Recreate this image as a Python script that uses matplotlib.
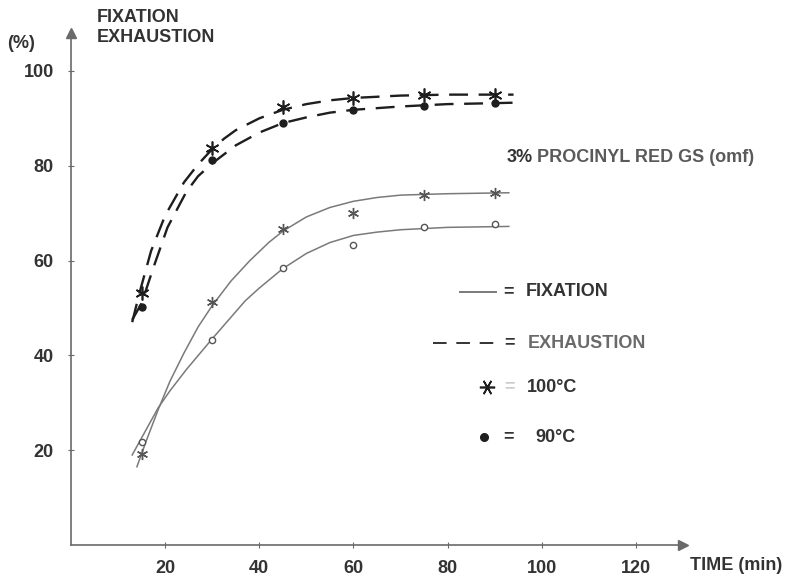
import numpy as np
import matplotlib
matplotlib.use('Agg')
import matplotlib.pyplot as plt
from matplotlib.lines import Line2D

plt.rcParams['font.family'] = ['Liberation Sans', 'DejaVu Sans']
plt.rcParams['font.weight'] = 'bold'

# measured points
times = [15, 30, 45, 60, 75, 90]
exh_100 = [53.2, 83.8, 92.4, 94.3, 94.9, 94.9]
exh_90 = [50.2, 81.2, 89.0, 91.8, 92.6, 93.2]
fix_100 = [19.3, 51.3, 66.7, 70.0, 73.8, 74.3]
fix_90 = [21.7, 43.2, 58.4, 63.3, 67.1, 67.7]

# hand drawn curves
exh_100_t = [13, 14.5, 17, 20, 24, 27, 30, 32.5, 35, 40, 45, 50, 55, 60, 70, 80, 90, 94]
exh_100_c = [47, 53, 62, 69.5, 76.5, 80.3, 83.5, 85.7, 87.5, 90, 91.8, 93, 93.8, 94.3,
             94.8, 95, 95, 95]
exh_90_t = [13, 15, 17.5, 20.5, 24.5, 27, 30, 35, 40, 45, 50, 55, 60, 70, 80, 90, 94]
exh_90_c = [47.5, 51, 58.5, 67, 74.5, 77.8, 80.5, 84.3, 87, 89, 90.2, 91.2, 91.8, 92.5,
            93, 93.2, 93.3]
fix_100_t = [14, 16, 18.5, 21, 24, 27, 30, 34, 38, 42, 45, 50, 55, 60, 65, 70, 80, 93]
fix_100_c = [16.5, 22, 28.5, 34.5, 40.5, 46, 50.5, 55.7, 60, 63.8, 66.2, 69.2, 71.2, 72.5,
             73.3, 73.8, 74.1, 74.3]
fix_90_t = [13, 15.5, 18.5, 21, 24.5, 30, 37, 40, 45, 50, 55, 60, 65, 70, 80, 93]
fix_90_c = [19, 23.5, 28.9, 32.5, 37, 43.5, 51.5, 54.2, 58.3, 61.5, 63.8, 65.3, 66.0, 66.5,
            67, 67.2]

xticks = [20, 40, 60, 80, 100, 120]
yticks = [20, 40, 60, 80, 100]

W, H = 786, 577
fig = plt.figure(figsize=(W / 100, H / 100), dpi=100)
ax = fig.add_axes([71 / W, 1 - 545 / H, 612 / W, 512 / H])
ax.set_xlim(0, 130)
ax.set_ylim(0, 108)

def px(x, y):
    return x / W, 1 - y / H

star = (6, 2, 0)
dark = '#1e1e1e'
grey = '#7a7a7a'

# exhaustion (dashed)
ax.plot(exh_100_t, exh_100_c, color=dark, lw=1.7, dashes=(8, 4.5))
ax.plot(exh_90_t, exh_90_c, color=dark, lw=1.7, dashes=(8, 4.5))
ax.plot(times, exh_100, ls='none', marker=star, ms=10, mew=1.2, color=dark)
ax.plot(times, exh_90, ls='none', marker='o', ms=5, color=dark)

# fixation (solid)
ax.plot(fix_100_t, fix_100_c, color=grey, lw=1.1)
ax.plot(fix_90_t, fix_90_c, color=grey, lw=1.1)
ax.plot(times, fix_100, ls='none', marker=star, ms=8, mew=1.0, color='#555555')
ax.plot(times, fix_90, ls='none', marker='o', ms=4.5, mfc='white', mec='#555555', mew=1.0)

# axes
for s in ['top', 'right']:
    ax.spines[s].set_visible(False)
for s in ['left', 'bottom']:
    ax.spines[s].set_color('#6a6a6a')
    ax.spines[s].set_linewidth(1.2)
ax.plot(0, 1, marker='^', ms=7, color='#6a6a6a', transform=ax.transAxes, clip_on=False)
ax.plot(1, 0, marker='>', ms=7, color='#6a6a6a', transform=ax.transAxes, clip_on=False)
ax.set_xticks(xticks)
ax.set_yticks(yticks)
ax.tick_params(direction='inout', length=5, width=0.8, color='#6a6a6a',
               labelsize=13, labelcolor='#333333')
ax.tick_params(axis='x', pad=8)
ax.tick_params(axis='y', pad=10)
for lab in ax.get_xticklabels() + ax.get_yticklabels():
    lab.set_fontweight('bold')

tk = dict(fontsize=13, fontweight='bold', color='#333333', va='center')
fig.text(*px(97, 17), 'FIXATION', **tk)
fig.text(*px(97, 37), 'EXHAUSTION', **tk)
fig.text(*px(7, 43), '(%)', **tk)
fig.text(*px(690, 565), 'TIME (min)', **tk)
fig.text(*px(507, 158), '3%', **tk)
fig.text(*px(537, 158), 'PROCINYL RED GS (omf)', fontsize=13, fontweight='bold',
         color='#5a5a5a', va='center')

# legend
fig.add_artist(Line2D([460 / W, 496 / W], [1 - 292 / H] * 2, color=grey, lw=1.4))
fig.text(*px(503, 292), '=', **tk)
fig.text(*px(526, 292), 'FIXATION', **tk)

fig.add_artist(Line2D([433 / W, 500 / W], [1 - 343 / H] * 2, color='#333333', lw=1.4,
                      dashes=(7, 5)))
fig.text(*px(504, 343), '=', **tk)
fig.text(*px(528, 343), 'EXHAUSTION', fontsize=13, fontweight='bold', color='#6a6a6a',
         va='center')

fig.add_artist(Line2D([487 / W], [1 - 387 / H], ls='none', marker=(6, 2, 90), ms=11,
                      mew=1.2, color=dark))
fig.text(*px(504, 387), '=', fontsize=13, fontweight='bold', color='#cccccc', va='center')
fig.text(*px(527, 387), '100°C', **tk)

fig.add_artist(Line2D([484 / W], [1 - 437 / H], ls='none', marker='o', ms=5.5, color=dark))
fig.text(*px(503, 437), '=', **tk)
fig.text(*px(535, 437), '90°C', **tk)

fig.savefig('out.png', dpi=100)
